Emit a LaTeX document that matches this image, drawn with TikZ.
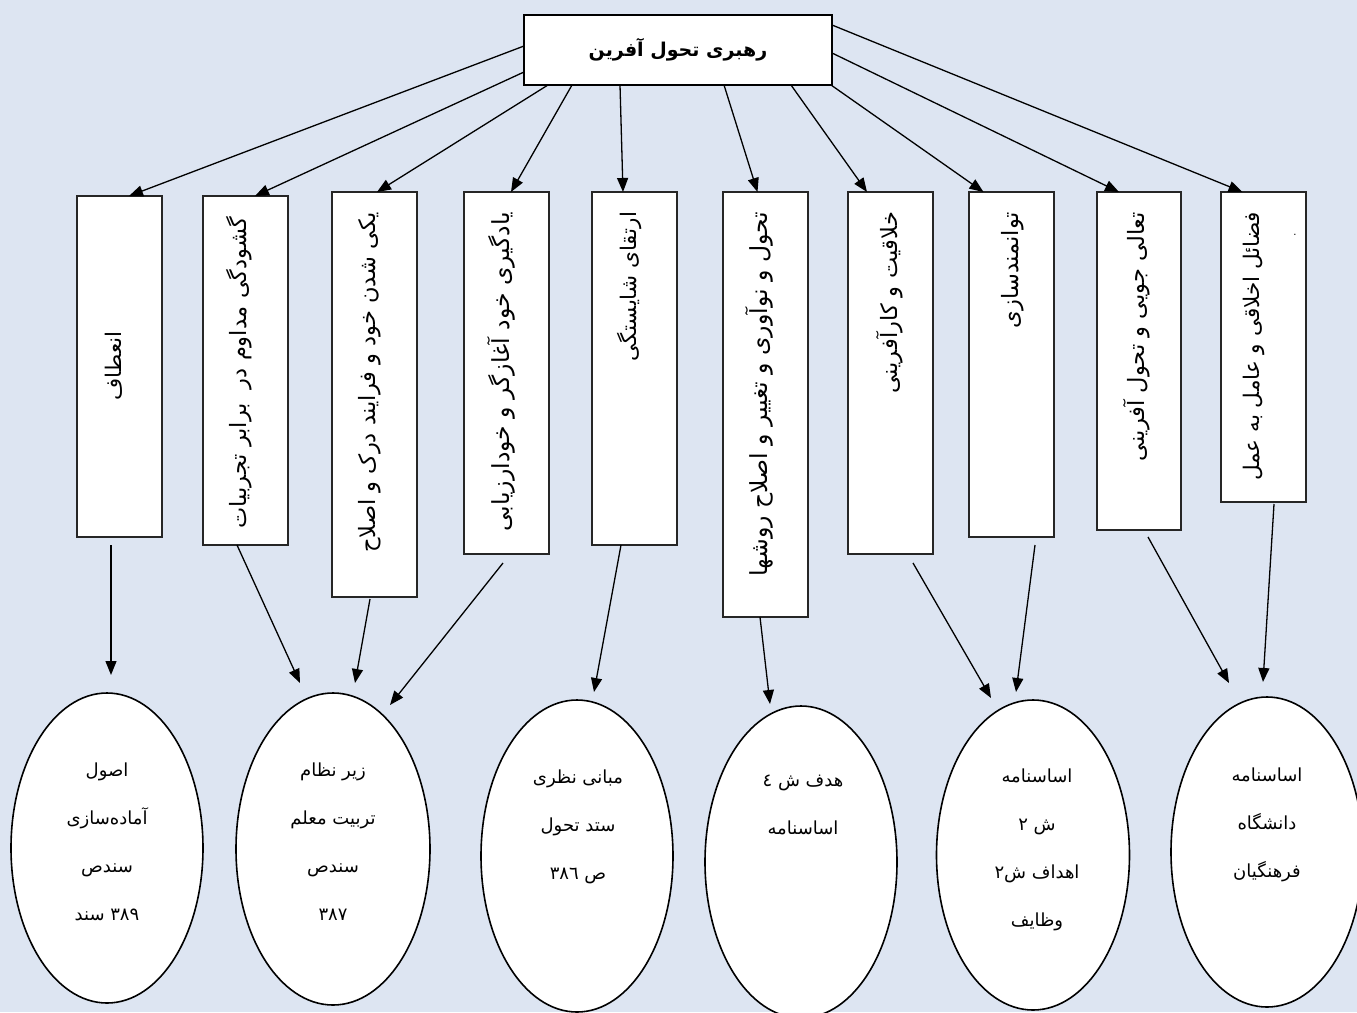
\documentclass[tikz,border=0pt]{standalone}
\usepackage{fontspec}
\usetikzlibrary{arrows.meta,shapes.geometric,calc}
\TeXXeTstate=1
\newfontfamily\fa[Script=Arabic]{DejaVu Sans}
\newcommand\rl[1]{\beginR#1\endR}
\newcommand\colfont[1]{\fa\fontsize{#1}{26}\selectfont}
\definecolor{paper}{RGB}{221,229,242}

\tikzset{
  every node/.style={inner sep=0pt, outer sep=0pt},
  headbox/.style={draw=black, fill=white, line width=2pt, minimum width=308pt, minimum height=70pt,
    font=\fa\bfseries\fontsize{19}{23}\selectfont},
  vbox/.style={draw=black!85, fill=white, line width=2pt, minimum width=85pt},
  vtxt/.style={rotate=90, anchor=east, font=\colfont{22.5}},
  oval/.style={draw=black, fill=white, ellipse, line width=1.6pt, minimum width=192pt, minimum height=310pt},
  otxt/.style={align=center, font=\fa\fontsize{18}{48}\selectfont},
  arr/.style={line width=1.3pt, -{Triangle[length=14pt,width=11pt]}},
}

\begin{document}
\begin{tikzpicture}[x=1pt,y=-1pt]
  % canvas
  \fill[paper] (0,0) rectangle (1357,1012);
  \useasboundingbox (0,0) rectangle (1357,1012);

  % root
  \node[headbox] (top) at (678,50) {\rl{رهبری تحول آفرین}};

  % second level: vertical boxes
  \node[vbox, minimum height=341pt] (b1)  at (119.5,366.5) {};
  \node[vbox, minimum height=349pt] (b2)  at (245.5,370.5) {};
  \node[vbox, minimum height=405pt] (b3)  at (374.5,394.5) {};
  \node[vbox, minimum height=362pt] (b4)  at (506.5,373)   {};
  \node[vbox, minimum height=353pt] (b5)  at (634.5,368.5) {};
  \node[vbox, minimum height=425pt] (b6)  at (765.5,404.5) {};
  \node[vbox, minimum height=362pt] (b7)  at (890.5,373)   {};
  \node[vbox, minimum height=345pt] (b8)  at (1011.5,364.5){};
  \node[vbox, minimum height=338pt, minimum width=84pt] (b9) at (1139,361) {};
  \node[vbox, minimum height=310pt] (b10) at (1263.5,347) {};

  % labels of the vertical boxes
  \node[vtxt, anchor=center, font=\colfont{21.5}] (t1) at (114,366) {\rl{انعطاف}};
  \node[vtxt] (t2)  at (239,217)  {\rl{گشودگی مداوم در \ برابر تجربیات}};
  \node[vtxt] (t3)  at (370,212)  {\rl{یکی شدن خود و فرایند درک و اصلاح}};
  \node[vtxt, font=\colfont{23.5}] (t4)  at (501,212)  {\rl{یادگیری خود آغازگر و خودارزیابی}};
  \node[vtxt, font=\colfont{21.5}] (t5)  at (629,212)  {\rl{ارتقای شایستگی}};
  \node[vtxt, font=\colfont{23.5}] (t6)  at (759,212)  {\rl{تحول و نوآوری و تغییر و اصلاح روشها}};
  \node[vtxt] (t7)  at (890,212)  {\rl{خلاقیت و کارآفرینی}};
  \node[vtxt] (t8)  at (1013,212) {\rl{توانمندسازی}};
  \node[vtxt] (t9)  at (1137,212) {\rl{تعالی جویی و تحول آفرینی}};
  \node[vtxt, font=\colfont{21.5}] (t10) at (1254,212) {\rl{فضائل اخلاقی و عامل به عمل}};
  \node[font=\fa\fontsize{10}{12}\selectfont] (dot) at (1295,235) {.};

  % third level: sources
  \node[oval] (e1) at (107,848) {};
  \node[oval, minimum width=194pt, minimum height=312pt] (e2) at (333,849) {};
  \node[oval, minimum height=312pt] (e3) at (577,856) {};
  \node[oval, minimum height=312pt] (e4) at (801,862) {};
  \node[oval, minimum width=193pt] (e5) at (1033,855) {};
  \node[oval] (e6) at (1267,852) {};

  \node[otxt] (s1) at (107,842) {\rl{اصول}\\\rl{آماده‌سازی}\\\rl{سندص}\\\rl{٣٨٩ سند}};
  \node[otxt] (s2) at (333,842) {\rl{زیر نظام}\\\rl{تربیت معلم}\\\rl{سندص}\\\rl{٣٨٧}};
  \node[otxt] (s3) at (578,827) {\rl{مبانی نظری}\\\rl{ستد تحول}\\\rl{ص ٣٨٦}};
  \node[otxt] (s4) at (803,805) {\rl{هدف ش ٤}\\\rl{اساسنامه}};
  \node[otxt] (s5) at (1037,850) {\rl{اساسنامه}\\\rl{ش ٢}\\\rl{اهداف ش٢}\\\rl{وظایف}};
  \node[otxt] (s6) at (1267,825) {\rl{اساسنامه}\\\rl{دانشگاه}\\\rl{فرهنگیان}};

  % root to second level
  \draw[arr] ($(top.north west)+(0,31)$) -- ($(b1.north)+(9.5,0)$);
  \draw[arr] ($(top.north west)+(0,57)$) -- ($(b2.north)+(9.5,0)$);
  \draw[arr] ($(top.south west)+(24,0)$)  -- ($(b3.north)+(2.5,0)$);
  \draw[arr] ($(top.south west)+(48,0)$)  -- ($(b4.north)+(4.5,0)$);
  \draw[arr] ($(top.south west)+(96,0)$)  -- ($(b5.north)+(-11.5,0)$);
  \draw[arr] ($(top.south west)+(200,0)$) -- ($(b6.north)+(-8,0)$);
  \draw[arr] ($(top.south west)+(267,0)$) -- ($(b7.north)+(-23.5,0)$);
  \draw[arr] ($(top.south east)+(-1,0)$)  -- ($(b8.north)+(-28,0)$);
  \draw[arr] ($(top.north east)+(0,38)$)  -- ($(b9.north)+(-20,0)$);
  \draw[arr] ($(top.north east)+(0,10)$)  -- ($(b10.north)+(-21,0)$);

  % second level to sources
  \draw[arr] ($(b1.south)+(-8.5,8)$)  -- ($(e1.north)+(4,-18)$);
  \draw[arr] ($(b2.south)+(-8.5,0)$)  -- ($(e2.north)+(-33,-10)$);
  \draw[arr] ($(b3.south)+(-4.5,2)$)  -- ($(e2.north)+(22,-10)$);
  \draw[arr] ($(b4.south)+(-3.5,9)$)  -- ($(e2.north)+(57,12)$);
  \draw[arr] ($(b5.south)+(-13.5,0)$) -- ($(e3.north)+(17,-8)$);
  \draw[arr] ($(b6.south)+(-5.5,0)$)  -- ($(e4.north)+(-31,-2)$);
  \draw[arr] ($(b7.south)+(22.5,9)$)  -- ($(e5.north)+(-42,-2)$);
  \draw[arr] ($(b8.south)+(23.5,8)$)  -- ($(e5.north)+(-17,-8)$);
  \draw[arr] ($(b9.south)+(9,7)$)     -- ($(e6.north)+(-38,-14)$);
  \draw[arr] ($(b10.south)+(10.5,2)$) -- ($(e6.north)+(-4,-15)$);
\end{tikzpicture}
\end{document}
